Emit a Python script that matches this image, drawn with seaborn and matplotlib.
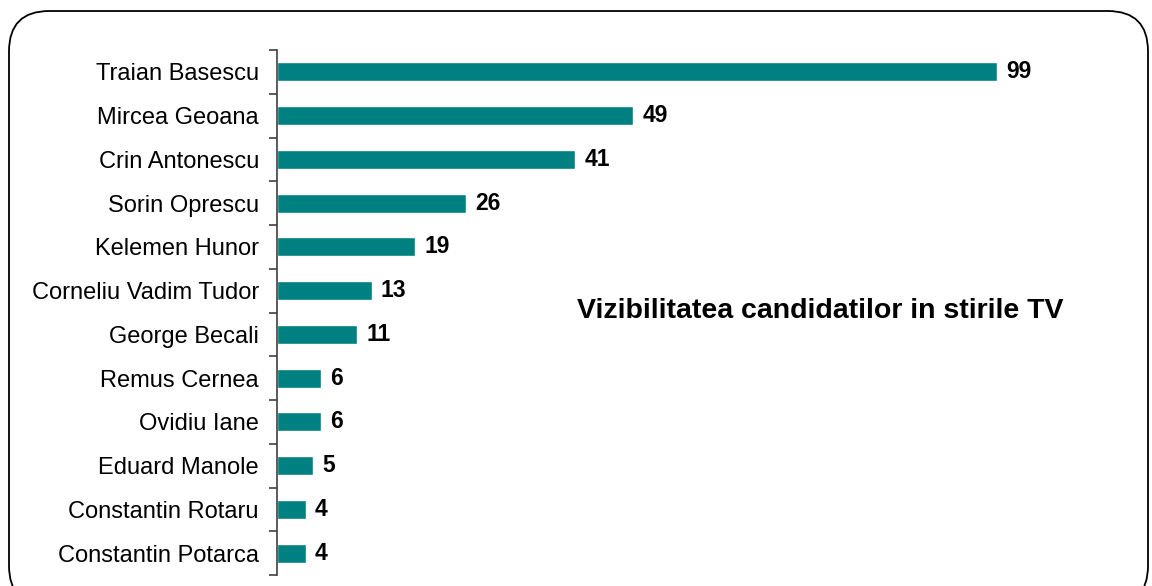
import matplotlib
matplotlib.use("Agg")
import matplotlib.pyplot as plt
import seaborn as sns
import pandas as pd
import numpy as np
from matplotlib.patches import FancyBboxPatch

candidates = ["Traian Basescu", "Mircea Geoana", "Crin Antonescu", "Sorin Oprescu",
              "Kelemen Hunor", "Corneliu Vadim Tudor", "George Becali", "Remus Cernea",
              "Ovidiu Iane", "Eduard Manole", "Constantin Rotaru", "Constantin Potarca"]
values = [99, 49, 41, 26, 19, 13, 11, 6, 6, 5, 4, 4]
title = "Vizibilitatea candidatilor in stirile TV"

sns.set_style("white")
plt.rcParams['font.family'] = ['Liberation Sans', 'DejaVu Sans']
plt.rcParams['text.color'] = 'black'
plt.rcParams['ytick.color'] = 'black'

df = pd.DataFrame({"candidate": candidates, "value": values})

fig = plt.figure(figsize=(11.52, 5.86), dpi=100)
# rounded frame
frame = FancyBboxPatch((9/1152, -20/586), (1148-9)/1152, (586-11+20)/586,
                       boxstyle="round,pad=0,rounding_size=0.035",
                       transform=fig.transFigure, fill=False, edgecolor="black",
                       linewidth=1.3, mutation_aspect=1152/586)
fig.patches.append(frame)

ax = fig.add_axes([277/1152, (586-575)/586, (1100-277)/1152, (575-50)/586])
sns.barplot(data=df, y="candidate", x="value", color="#008080", saturation=1,
            width=0.435, ax=ax, orient="h")
px_per_unit = (997-277)/99
ax.set_xlim(0, (1100-277)/px_per_unit)
ax.set_ylim(len(candidates)-0.5, -0.5)
for s in ["top", "right", "bottom"]:
    ax.spines[s].set_visible(False)
ax.spines["left"].set_color("#404040")
ax.spines["left"].set_linewidth(1.2)
ax.set_xticks([])
ax.set_xlabel("")
ax.set_ylabel("")
ax.set_yticks(range(len(candidates)))
ax.set_yticklabels(candidates, fontsize=17, color="black")
ax.tick_params(axis="y", which="major", length=0, pad=13)
ax.set_yticks(np.arange(-0.5, len(candidates), 1), minor=True)
ax.tick_params(axis="y", which="minor", left=True, length=5.5, width=1.2,
               color="#404040", direction="out")

for i, v in enumerate(values):
    ax.annotate(str(v), (v, i), xytext=(6.5, 0), textcoords="offset points",
                va="center", ha="left", fontsize=16.5, fontweight="bold", color="black")

fig.text(820/1152, 1-311/586, title, ha="center", va="center",
         fontsize=20.5, fontweight="bold", color="black")

fig.savefig("out.png", dpi=100)
